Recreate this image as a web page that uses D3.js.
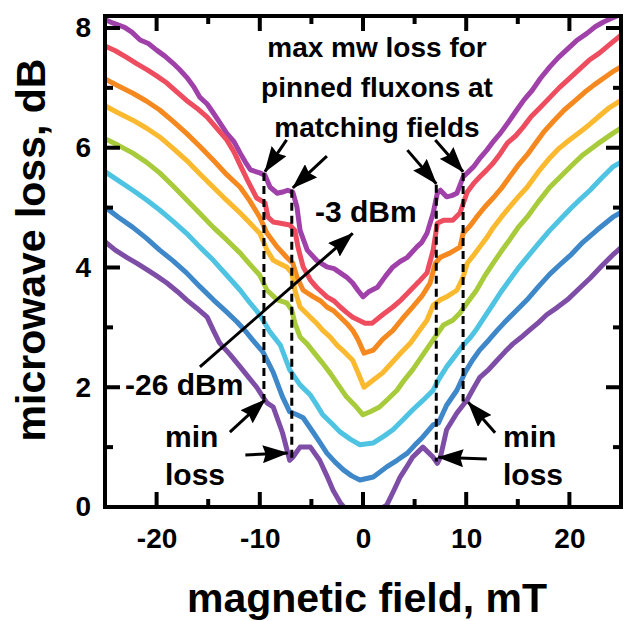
<!DOCTYPE html>
<html><head><meta charset="utf-8">
<script src="https://cdn.jsdelivr.net/npm/d3@7"></script>
<style>
body{margin:0;background:#fff}
svg{display:block}
text{font-family:"Liberation Sans",Arial,Helvetica,sans-serif;font-weight:bold;fill:#000}
</style>
</head><body>
<svg id="chart" width="625" height="621"></svg>
<script>
// ---- data (magnetic field mT, microwave loss dB) ----
const seriesNames = ["-3 dBm","p2","p3","p4","p5","p6","p7","-26 dBm"];
const seriesColors = ["#a041aa","#ee4d5f","#f5891f","#fbb92f","#a8cb3c","#4fc3e2","#3e87c9","#7e4ea7"];
const curve1 = [[-25,8.14],[-24.2,8.08],[-23.1,8.01],[-22.4,7.93],[-21.6,7.80],[-20.8,7.74],[-20,7.63],[-19.2,7.53],[-18.4,7.41],[-17.8,7.31],[-17.1,7.18],[-16.4,7.02],[-15.8,6.84],[-15.1,6.73],[-14.5,6.58],[-13.8,6.40],[-13.2,6.24],[-12.5,6.10],[-11.9,5.91],[-11.4,5.76],[-10.9,5.63],[-10.0,5.58],[-9.5,5.54],[-9.0,5.34],[-8.3,5.24],[-7.8,5.26],[-7.3,5.29],[-6.8,5.26],[-6.4,5.01],[-6.1,4.62],[-5.4,4.29],[-4.5,4.12],[-3.5,4.01],[-2.8,3.98],[-2.2,3.91],[-1.6,3.84],[-1.0,3.74],[-0.5,3.62],[0,3.51],[0.6,3.60],[1.4,3.67],[2.2,3.86],[2.9,4.01],[3.6,4.10],[4.3,4.17],[5.2,4.34],[5.7,4.42],[6.2,4.57],[6.8,4.91],[7.2,5.24],[7.5,5.29],[8.1,5.18],[8.6,5.20],[9.1,5.24],[9.7,5.51],[10.7,5.68],[11.4,5.84],[12.0,5.96],[12.7,6.12],[13.3,6.24],[14.1,6.43],[14.9,6.63],[15.6,6.80],[16.4,6.96],[17.2,7.16],[18.1,7.35],[18.9,7.50],[19.7,7.63],[20.7,7.79],[21.7,7.91],[22.5,8.02],[23.3,8.10],[24.2,8.17],[25,8.23]];
const curve2 = [[-25,7.70],[-24.0,7.62],[-22.9,7.51],[-21.9,7.40],[-20.9,7.30],[-20.0,7.20],[-19.0,7.08],[-18.1,6.94],[-17.1,6.79],[-16.1,6.66],[-15.1,6.51],[-14.2,6.33],[-13.2,6.13],[-12.5,5.93],[-11.9,5.71],[-11.2,5.46],[-10.3,5.16],[-9.5,5.08],[-9.2,4.84],[-8.7,4.76],[-8.0,4.74],[-7.1,4.71],[-6.6,4.62],[-6.3,4.34],[-5.8,4.01],[-5.1,3.79],[-4.5,3.67],[-3.5,3.51],[-2.8,3.44],[-2.2,3.34],[-1.6,3.25],[-1.0,3.17],[-0.4,3.12],[0.2,3.07],[0.9,3.07],[1.9,3.21],[2.9,3.34],[3.7,3.46],[4.6,3.62],[5.4,3.76],[6.2,3.91],[6.8,4.29],[7.2,4.74],[7.8,4.79],[8.7,4.79],[9.4,4.91],[10.1,5.26],[10.7,5.40],[11.3,5.51],[12.0,5.63],[12.6,5.74],[13.3,5.90],[14.0,6.08],[14.8,6.20],[15.5,6.34],[16.3,6.52],[17.1,6.66],[18.0,6.82],[19.0,7.00],[19.9,7.14],[20.9,7.30],[21.9,7.46],[22.9,7.58],[24.0,7.74],[25,7.88]];
const curve3 = [[-25,7.15],[-23.7,7.03],[-22.3,6.91],[-21.0,6.78],[-19.7,6.63],[-18.4,6.44],[-17.1,6.24],[-15.8,6.02],[-14.5,5.79],[-13.2,5.55],[-11.9,5.34],[-11.0,5.12],[-10.0,4.84],[-9.3,4.57],[-8.3,4.34],[-7.4,4.17],[-6.8,4.07],[-6.4,3.84],[-5.8,3.62],[-4.8,3.51],[-4.1,3.44],[-3.5,3.34],[-2.8,3.27],[-2.2,3.17],[-1.6,3.07],[-1.0,2.95],[-0.5,2.80],[0.1,2.57],[1.0,2.62],[1.9,2.80],[2.9,2.95],[3.8,3.14],[4.8,3.34],[5.7,3.52],[6.5,3.74],[7.0,4.07],[7.5,4.17],[8.4,4.24],[9.4,4.34],[9.7,4.57],[10.4,4.70],[11.0,4.84],[11.8,5.01],[12.6,5.16],[13.4,5.32],[14.2,5.51],[15.0,5.70],[15.9,5.88],[16.7,6.07],[17.5,6.26],[18.5,6.45],[19.5,6.63],[20.5,6.78],[21.5,6.93],[22.4,7.05],[23.3,7.16],[24.2,7.27],[25,7.35]];
const curve4 = [[-25,6.70],[-23.7,6.58],[-22.3,6.46],[-21.0,6.33],[-19.7,6.18],[-18.4,5.99],[-17.1,5.79],[-15.8,5.56],[-14.5,5.34],[-13.2,5.12],[-11.9,4.91],[-11.0,4.75],[-10.0,4.57],[-9.3,4.29],[-8.7,4.12],[-8.0,4.06],[-7.4,4.01],[-6.9,3.91],[-6.6,3.62],[-6.1,3.34],[-5.1,3.17],[-4.5,3.07],[-3.9,2.95],[-3.2,2.84],[-2.5,2.70],[-1.8,2.59],[-1.0,2.45],[-0.5,2.25],[0.1,2.00],[1.0,2.12],[1.9,2.24],[2.8,2.41],[3.7,2.58],[4.6,2.74],[5.4,2.93],[6.2,3.12],[6.8,3.37],[7.5,3.46],[8.1,3.51],[9.1,3.62],[9.7,3.84],[10.1,4.07],[10.7,4.20],[11.3,4.34],[12.0,4.50],[12.6,4.66],[13.4,4.84],[14.2,5.01],[15.0,5.17],[15.9,5.34],[17.0,5.60],[18.1,5.83],[19.0,5.99],[20.0,6.13],[21.0,6.26],[21.9,6.38],[22.9,6.53],[23.8,6.66],[25,6.79]];
const curve5 = [[-25,6.15],[-23.7,6.04],[-22.3,5.91],[-21.0,5.76],[-19.7,5.58],[-18.4,5.36],[-17.1,5.13],[-15.8,4.90],[-14.5,4.67],[-13.2,4.46],[-11.9,4.24],[-11.0,4.06],[-10.0,3.87],[-9.3,3.62],[-8.3,3.46],[-7.4,3.41],[-6.9,3.29],[-6.6,3.07],[-6.1,2.84],[-5.4,2.72],[-4.8,2.59],[-4.0,2.42],[-3.2,2.24],[-2.4,2.04],[-1.6,1.84],[-0.8,1.70],[0,1.54],[0.8,1.60],[1.6,1.67],[2.4,1.80],[3.3,1.95],[4.0,2.12],[4.8,2.29],[5.8,2.54],[6.8,2.79],[7.8,3.04],[8.7,3.12],[9.4,3.24],[10.1,3.41],[11.0,3.62],[11.8,3.86],[12.6,4.07],[13.4,4.27],[14.2,4.46],[15.0,4.66],[15.9,4.84],[17.0,5.10],[18.1,5.34],[19.1,5.51],[20.2,5.70],[21.3,5.88],[22.7,6.06],[24.2,6.24],[25,6.33]];
const curve6 = [[-25,5.60],[-23.7,5.45],[-22.3,5.29],[-21.0,5.13],[-19.7,4.96],[-18.4,4.77],[-17.1,4.57],[-15.8,4.34],[-14.5,4.12],[-13.2,3.87],[-11.9,3.62],[-11.0,3.42],[-10.0,3.21],[-9.0,2.92],[-8.0,2.70],[-7.1,2.29],[-6.1,2.04],[-5.1,1.87],[-4.5,1.71],[-3.9,1.54],[-3.0,1.39],[-2.2,1.25],[-1.2,1.13],[-0.3,1.04],[1.0,1.07],[2.0,1.18],[2.9,1.29],[3.9,1.46],[4.8,1.62],[5.8,1.78],[6.8,1.95],[7.3,2.12],[8.1,2.34],[8.9,2.52],[9.7,2.70],[10.4,2.83],[11.0,2.97],[11.8,3.18],[12.6,3.39],[13.4,3.60],[14.2,3.79],[15.0,3.98],[15.9,4.17],[17.0,4.40],[18.1,4.62],[19.1,4.80],[20.1,4.98],[21.0,5.13],[22.0,5.29],[23.1,5.49],[24.2,5.68],[25,5.76]];
const curve7 = [[-25,5.01],[-23.7,4.84],[-22.3,4.67],[-21.0,4.49],[-19.7,4.29],[-18.4,4.11],[-17.1,3.91],[-15.8,3.68],[-14.5,3.46],[-13.3,3.27],[-12.2,3.09],[-11.4,2.94],[-10.7,2.79],[-9.7,2.59],[-8.7,2.25],[-7.8,1.84],[-7.1,1.59],[-6.4,1.54],[-5.8,1.49],[-4.8,1.24],[-4.1,1.06],[-3.5,0.90],[-2.7,0.75],[-1.9,0.62],[-1.1,0.52],[-0.3,0.45],[1.0,0.50],[2.3,0.67],[3.3,0.78],[4.3,0.90],[5.0,1.03],[5.8,1.17],[6.8,1.37],[7.3,1.40],[8.1,1.70],[9.1,1.95],[9.9,2.25],[10.6,2.45],[11.3,2.62],[12.2,2.79],[13.0,2.95],[13.7,3.08],[14.5,3.22],[15.2,3.34],[15.9,3.46],[17.0,3.68],[18.1,3.89],[19.1,4.05],[20.2,4.22],[21.3,4.42],[22.7,4.63],[24.2,4.84],[25,4.92]];
const curve8 = [[-25,4.43],[-24.0,4.29],[-22.9,4.17],[-21.9,4.07],[-20.9,3.96],[-20.0,3.86],[-19.0,3.74],[-18.0,3.60],[-17.1,3.46],[-16.1,3.32],[-15.1,3.17],[-14.5,2.95],[-13.9,2.74],[-12.9,2.55],[-11.9,2.34],[-11.1,2.17],[-10.3,2.00],[-9.7,1.84],[-9.3,1.74],[-8.7,1.67],[-7.8,1.24],[-7.1,0.78],[-6.8,0.83],[-6.1,1.00],[-5.1,1.00],[-4.2,0.78],[-3.5,0.52],[-2.9,0.28],[-2.2,0.07],[-1.6,-0.05],[-0.8,-0.08],[0.2,-0.05],[1.2,-0.08],[2.3,0.03],[3.0,0.28],[3.6,0.50],[4.2,0.66],[4.8,0.83],[5.8,1.00],[6.8,0.83],[7.2,0.73],[7.5,0.83],[8.1,1.29],[9.1,1.57],[10.1,1.79],[10.7,1.98],[11.3,2.16],[12.2,2.30],[13.0,2.45],[13.8,2.60],[14.5,2.72],[15.3,2.83],[16.1,2.95],[17.0,3.08],[17.8,3.21],[18.8,3.33],[19.8,3.46],[20.9,3.64],[22.0,3.82],[23.1,4.02],[24.2,4.21],[25,4.33]];
const curves = [curve1,curve2,curve3,curve4,curve5,curve6,curve7,curve8];

const xMajorTicks = [-20,-10,0,10,20];
const xMinorTicks = [-15,-5,5,15];
const yMajorTicks = [0,2,4,6,8];
const yMinorTicks = [1,3,5,7];

// matching-field markers (field, top loss, bottom loss)
const matchField = [-9.6,-6.9,7.1,9.7];
const dashTop = [5.58,5.30,5.38,5.58];
const dashBottom = [1.80,0.80,0.76,1.76];

// ---- layout ----
const svg = d3.select("#chart");
const L=105, R=621, T=16, B=507;
const x = d3.scaleLinear().domain([-25,25]).range([L,R]);
const y = d3.scaleLinear().domain([0,8.2]).range([B,T]);

const defs = svg.append("defs");
defs.append("clipPath").attr("id","clip")
  .append("rect").attr("x",L).attr("y",T).attr("width",R-L).attr("height",B-T);
defs.append("marker").attr("id","ah").attr("markerUnits","userSpaceOnUse")
  .attr("viewBox","0 0 26 18").attr("refX",25).attr("refY",9)
  .attr("markerWidth",26).attr("markerHeight",18).attr("orient","auto")
  .append("path").attr("d","M0,0 L26,9 L0,18 L3,9 Z").attr("fill","#000");

const line = d3.line().x(d=>x(d[0])).y(d=>y(d[1]));
const gCurves = svg.append("g").attr("clip-path","url(#clip)");
gCurves.selectAll("path").data(curves).join("path")
  .attr("d",line).attr("fill","none")
  .attr("stroke",(d,i)=>seriesColors[i])
  .attr("stroke-width",5).attr("stroke-linejoin","round").attr("stroke-linecap","round");

// dashed matching-field lines
svg.append("g").selectAll("line").data(matchField).join("line")
  .attr("x1",d=>x(d)).attr("x2",d=>x(d))
  .attr("y1",(d,i)=>y(dashTop[i])).attr("y2",(d,i)=>y(dashBottom[i]))
  .attr("stroke","#000").attr("stroke-width",3).attr("stroke-dasharray","8,5");

// frame: four sides as explicit lines
const frameSides = [[L-2,B,R+2,B],[L-2,T,R+2,T],[L,T,L,B],[R,T,R,B]];
svg.append("g").selectAll("line").data(frameSides).join("line")
  .attr("x1",d=>d[0]).attr("y1",d=>d[1]).attr("x2",d=>d[2]).attr("y2",d=>d[3])
  .attr("stroke","#000").attr("stroke-width",4);

// inward tick marks on all four sides
const tickSegs = [];
xMajorTicks.forEach(v=>{ tickSegs.push([x(v),B,x(v),B-15],[x(v),T,x(v),T+15]); });
xMinorTicks.forEach(v=>{ tickSegs.push([x(v),B,x(v),B-8],[x(v),T,x(v),T+8]); });
yMajorTicks.forEach(v=>{ tickSegs.push([L,y(v),L+15,y(v)],[R,y(v),R-15,y(v)]); });
yMinorTicks.forEach(v=>{ tickSegs.push([L,y(v),L+8,y(v)],[R,y(v),R-8,y(v)]); });
svg.append("g").selectAll("line").data(tickSegs).join("line")
  .attr("x1",d=>d[0]).attr("y1",d=>d[1]).attr("x2",d=>d[2]).attr("y2",d=>d[3])
  .attr("stroke","#000").attr("stroke-width",4);

// tick labels via d3 axes
function clean(g){ g.select(".domain").remove(); g.selectAll(".tick line").remove();
  g.selectAll("text").attr("font-size",28).attr("font-family",null).attr("fill","#000"); }
svg.append("g").attr("transform",`translate(0,${B})`)
  .call(d3.axisBottom(x).tickValues(xMajorTicks).tickSize(0).tickPadding(21).tickFormat(d=>String(d)))
  .call(clean);
svg.append("g").attr("transform",`translate(${L},0)`)
  .call(d3.axisLeft(y).tickValues(yMajorTicks).tickSize(0).tickPadding(14).tickFormat(d=>String(d)))
  .call(clean);

// axis titles
svg.append("text").attr("x",(L+R)/2+4).attr("y",612).attr("text-anchor","middle")
  .attr("font-size",41).text("magnetic field, mT");
svg.append("text").attr("transform","translate(45,250) rotate(-90)").attr("text-anchor","middle")
  .attr("font-size",41).text("microwave loss, dB");

// annotations
const ann = svg.append("g");
function arrow(x1,y1,x2,y2){
  ann.append("line").attr("x1",x(x1)).attr("y1",y(y1)).attr("x2",x(x2)).attr("y2",y(y2))
    .attr("stroke","#000").attr("stroke-width",3).attr("marker-end","url(#ah)");
}
arrow(-15.8,2.34,-1.0,4.57);
arrow(-7.4,6.13,-9.5,5.60);
arrow(-3.5,5.86,-6.8,5.33);
arrow(4.3,5.96,7.1,5.40);
arrow(7.0,6.13,9.7,5.60);
arrow(-12.9,1.25,-9.5,1.79);
arrow(-11.4,0.87,-7.3,0.90);
arrow(12.8,1.24,10.2,1.75);
arrow(12.0,0.80,7.3,0.83);

const titleLines = ["max mw loss for","pinned fluxons at","matching fields"];
ann.selectAll("text.t").data(titleLines).join("text").attr("class","t")
  .attr("x",377).attr("y",(d,i)=>57+40*i).attr("text-anchor","middle").attr("font-size",28).text(d=>d);
ann.append("text").attr("x",315).attr("y",222).attr("font-size",30).text(seriesNames[0]);
ann.append("text").attr("x",125).attr("y",395).attr("font-size",30).text(seriesNames[7]);
ann.append("text").attr("x",165).attr("y",447).attr("font-size",30).text("min");
ann.append("text").attr("x",165).attr("y",485).attr("font-size",30).text("loss");
ann.append("text").attr("x",503).attr("y",447).attr("font-size",30).text("min");
ann.append("text").attr("x",503).attr("y",485).attr("font-size",30).text("loss");
</script>
</body></html>
